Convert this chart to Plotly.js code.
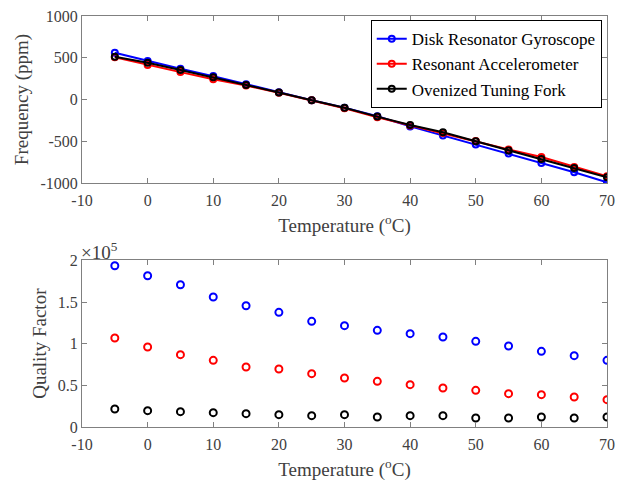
<!DOCTYPE html>
<html>
<head>
<meta charset="utf-8">
<script src="https://cdn.plot.ly/plotly-3.0.1.min.js"></script>
<style>html,body{margin:0;padding:0;background:#fff;}#chart{width:617px;height:484px;}</style>
</head>
<body>
<div id="chart"></div>
<script>
var temperature = [-5, 0, 5, 10, 15, 20, 25, 30, 35, 40, 45, 50, 55, 60, 65, 70];

var freqGyro  = [560, 460, 368, 280, 182, 88, -8, -100, -200, -322, -432, -540, -648, -760, -872, -992];
var freqAccel = [505, 412, 328, 242, 168, 80, -10, -105, -212, -310, -400, -498, -600, -688, -808, -920];
var freqFork  = [512, 440, 352, 265, 175, 85, -8, -100, -205, -305, -392, -500, -610, -712, -820, -932];

var qGyro  = [1.936, 1.816, 1.708, 1.56, 1.456, 1.376, 1.268, 1.216, 1.16, 1.12, 1.08, 1.028, 0.972, 0.908, 0.856, 0.80];
var qAccel = [1.068, 0.96, 0.868, 0.80, 0.72, 0.696, 0.64, 0.588, 0.548, 0.508, 0.468, 0.44, 0.40, 0.388, 0.36, 0.328];
var qFork  = [0.216, 0.196, 0.184, 0.172, 0.16, 0.148, 0.136, 0.148, 0.12, 0.136, 0.136, 0.108, 0.108, 0.12, 0.108, 0.12];

var seriesNames = ["Disk Resonator Gyroscope", "Resonant Accelerometer", "Ovenized Tuning Fork"];
var xTicks = [-10, 0, 10, 20, 30, 40, 50, 60, 70];
var xTickText = ["-10", "0", "10", "20", "30", "40", "50", "60", "70"];
var yTicksFreq = [-1000, -500, 0, 500, 1000];
var yTickTextFreq = ["-1000", "-500", "0", "500", "1000"];
var yTicksQ = [0, 0.5, 1, 1.5, 2];
var yTickTextQ = ["0", "0.5", "1", "1.5", "2"];

var colors = ["#0000ff", "#ff0000", "#000000"];
var freqs = [freqGyro, freqAccel, freqFork];
var qs = [qGyro, qAccel, qFork];

var traces = [];
for (var i = 0; i < 3; i++) {
  traces.push({
    x: temperature, y: freqs[i], name: seriesNames[i], type: "scatter", mode: "lines+markers",
    line: {color: colors[i], width: 2},
    marker: {symbol: "circle-open", size: 6, color: colors[i], line: {width: 2, color: colors[i]}},
    xaxis: "x", yaxis: "y"
  });
}
for (var j = 0; j < 3; j++) {
  traces.push({
    x: temperature, y: qs[j], name: seriesNames[j], type: "scatter", mode: "markers",
    showlegend: false,
    marker: {symbol: "circle-open", size: 7, color: colors[j], line: {width: 2, color: colors[j]}},
    xaxis: "x2", yaxis: "y2"
  });
}

var fam = "Liberation Serif, Times New Roman, serif";
var font = {family: fam, size: 16, color: "#404040"};
var titleFont = {family: fam, size: 19, color: "#404040"};
var axisCommon = {
  showline: true, linecolor: "#808080", linewidth: 1, mirror: "ticks",
  ticks: "inside", ticklen: 5, tickcolor: "#808080",
  showgrid: false, zeroline: false,
  tickfont: {family: fam, size: 16, color: "#404040"}
};
function ax(extra) { var o = {}; for (var k in axisCommon) o[k] = axisCommon[k]; for (var k2 in extra) o[k2] = extra[k2]; return o; }

var layout = {
  width: 617, height: 484,
  margin: {l: 82, r: 10, t: 16, b: 57},
  paper_bgcolor: "#fff", plot_bgcolor: "#fff",
  font: font,
  showlegend: true,
  legend: {
    x: 0.99, y: 0.99, xanchor: "right", yanchor: "top",
    bgcolor: "#fff", bordercolor: "#000", borderwidth: 1,
    font: {family: fam, size: 17, color: "#000"},
    tracegroupgap: 0, itemwidth: 30
  },
  xaxis: ax({domain: [0, 1], range: [-10, 70], tickvals: xTicks, ticktext: xTickText, anchor: "y",
    ticklabelstandoff: 3,
    title: {text: "Temperature (<sup>o</sup>C)", font: titleFont, standoff: 10}}),
  yaxis: ax({domain: [0.5937, 1], range: [-1000, 1000], tickvals: yTicksFreq, ticktext: yTickTextFreq, anchor: "x",
    title: {text: "Frequency (ppm)", font: titleFont, standoff: 6}}),
  xaxis2: ax({domain: [0, 1], range: [-10, 70], tickvals: xTicks, ticktext: xTickText, anchor: "y2",
    ticklabelstandoff: 3,
    title: {text: "Temperature (<sup>o</sup>C)", font: titleFont, standoff: 10}}),
  yaxis2: ax({domain: [0, 0.4054], range: [0, 2], tickvals: yTicksQ, ticktext: yTickTextQ, anchor: "x2",
    title: {text: "Quality Factor", font: titleFont, standoff: 6}}),
  annotations: [{
    xref: "x2", yref: "y2", x: -10, y: 2, xanchor: "left", yanchor: "bottom",
    text: "×10<sup>5</sup>", showarrow: false, yshift: -5, xshift: -3,
    font: {family: fam, size: 19, color: "#404040"}
  }]
};

Plotly.newPlot("chart", traces, layout, {displayModeBar: false, staticPlot: true});
</script>
</body>
</html>
